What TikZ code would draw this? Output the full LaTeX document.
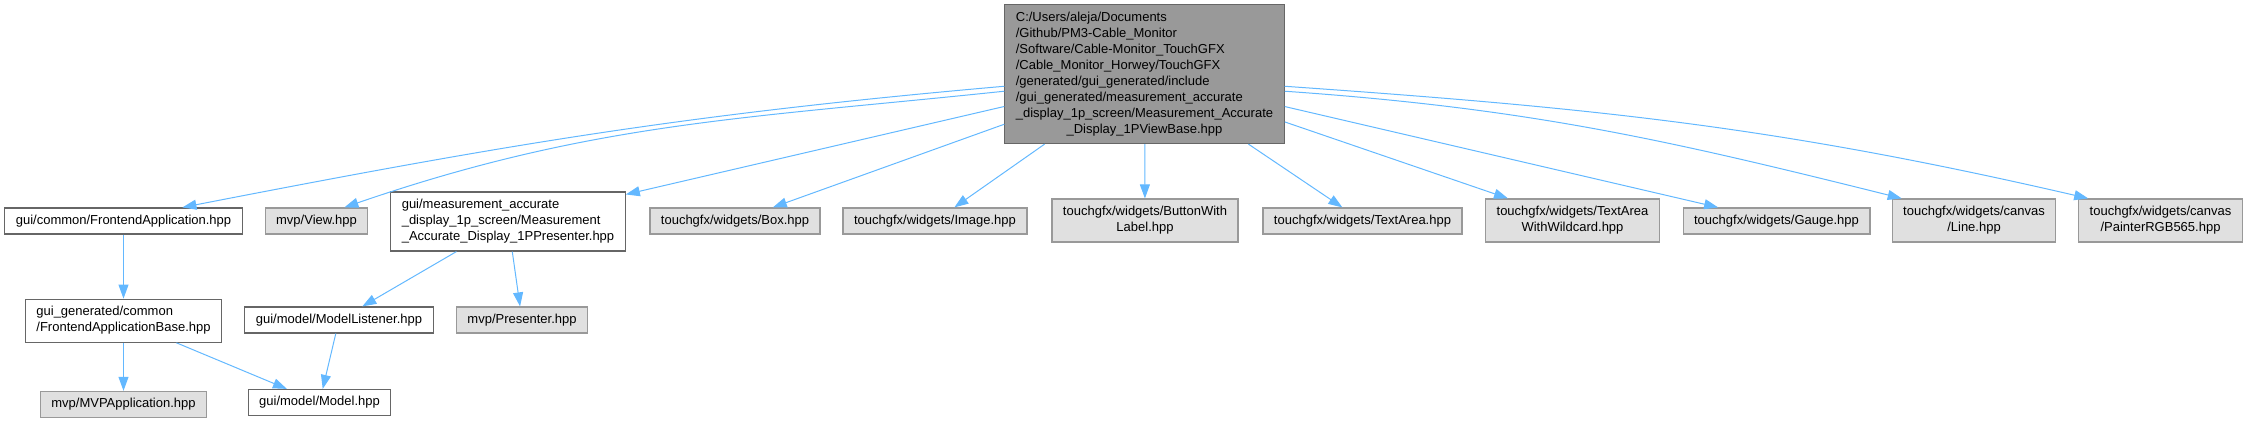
\documentclass[tikz,border=0pt]{standalone}
\usepackage{fontspec}
\setmainfont{Liberation Sans}
\usepackage{tikz}
\usetikzlibrary{arrows.meta,positioning}
\usepackage{xcolor}
\definecolor{frame}{HTML}{666666}
\definecolor{rootfill}{HTML}{999999}
\definecolor{extfill}{HTML}{E0E0E0}
\definecolor{extframe}{HTML}{999999}
\definecolor{edgeblue}{HTML}{63B8FF}
\tikzset{
  file/.style={draw=frame,fill=white,line width=1.2pt,inner xsep=11pt,inner ysep=5.5pt,
    minimum height=26pt,font=\fontsize{13}{16}\selectfont,align=left},
  rootfile/.style={file,fill=rootfill},
  extfile/.style={file,draw=extframe,fill=extfill},
  dep/.style={-{Stealth[length=14pt,width=10pt,inset=0pt]},line width=1pt,edgeblue},
}
\newcommand{\flines}[2]{\begin{tabular}{@{}l@{}}#1\\\multicolumn{1}{@{}c@{}}{#2}\end{tabular}}

\begin{document}
\begin{tikzpicture}[x=1pt,y=-1pt]
\useasboundingbox (0,0) rectangle (2247,421);
\node[rootfile] (viewbase) at (1144.5,74)
  {\flines{C:/Users/aleja/Documents\\/Github/PM3-Cable\_Monitor\\/Software/Cable-Monitor\_TouchGFX\\
   /Cable\_Monitor\_Horwey/TouchGFX\\/generated/gui\_generated/include\\
   /gui\_generated/measurement\_accurate\\\_display\_1p\_screen/Measurement\_Accurate}{\_Display\_1PViewBase.hpp}};
\node[file] (frontend) at (123.5,221) {gui/common/FrontendApplication.hpp};
\node[extfile] (mvpview) at (316.5,221) {mvp/View.hpp};
\node[file] (presenter) at (508,221.5)
  {\flines{gui/measurement\_accurate\\\_display\_1p\_screen/Measurement}{\_Accurate\_Display\_1PPresenter.hpp}};
\node[extfile] (box) at (735,221) {touchgfx/widgets/Box.hpp};
\node[extfile] (image) at (935,221) {touchgfx/widgets/Image.hpp};
\node[extfile] (button) at (1145,220.5) {\flines{touchgfx/widgets/ButtonWith}{Label.hpp}};
\node[extfile] (textarea) at (1362.5,221) {touchgfx/widgets/TextArea.hpp};
\node[extfile] (wildcard) at (1572.5,220.5) {\flines{touchgfx/widgets/TextArea}{WithWildcard.hpp}};
\node[extfile] (gauge) at (1776.5,221) {touchgfx/widgets/Gauge.hpp};
\node[extfile] (line) at (1974,220.5) {\flines{touchgfx/widgets/canvas}{/Line.hpp}};
\node[extfile] (painter) at (2160.5,220.5) {\flines{touchgfx/widgets/canvas}{/PainterRGB565.hpp}};
\node[file,below=64pt of frontend] (frontendbase) {\flines{gui\_generated/common}{/FrontendApplicationBase.hpp}};
\node[file] (listener) at (339,320) {gui/model/ModelListener.hpp};
\node[extfile] (mvppresenter) at (522,320) {mvp/Presenter.hpp};
\node[extfile,below=48pt of frontendbase] (mvpapp) {mvp/MVPApplication.hpp};
\node[file] (model) at (319.5,402.5) {gui/model/Model.hpp};
\draw[dep] (viewbase.185) to[out=185,in=11] (frontend.13);
\draw[dep] (viewbase.187) to[out=186,in=19] (mvpview.26);
\draw[dep] (viewbase)--(presenter); \draw[dep] (viewbase)--(box); \draw[dep] (viewbase)--(image);
\draw[dep] (viewbase)--(button); \draw[dep] (viewbase)--(textarea);
\draw[dep] (viewbase)--(wildcard); \draw[dep] (viewbase)--(gauge);
\draw[dep] (viewbase.353) to[out=356,in=166] (line.163);
\draw[dep] (viewbase.355) to[out=356,in=167] (painter.163);
\draw[dep] (frontend)--(frontendbase);
\draw[dep] (presenter)--(listener); \draw[dep] (presenter)--(mvppresenter);
\draw[dep] (frontendbase)--(mvpapp); \draw[dep] (frontendbase)--(model);
\draw[dep] (listener)--(model);
\end{tikzpicture}
\end{document}
